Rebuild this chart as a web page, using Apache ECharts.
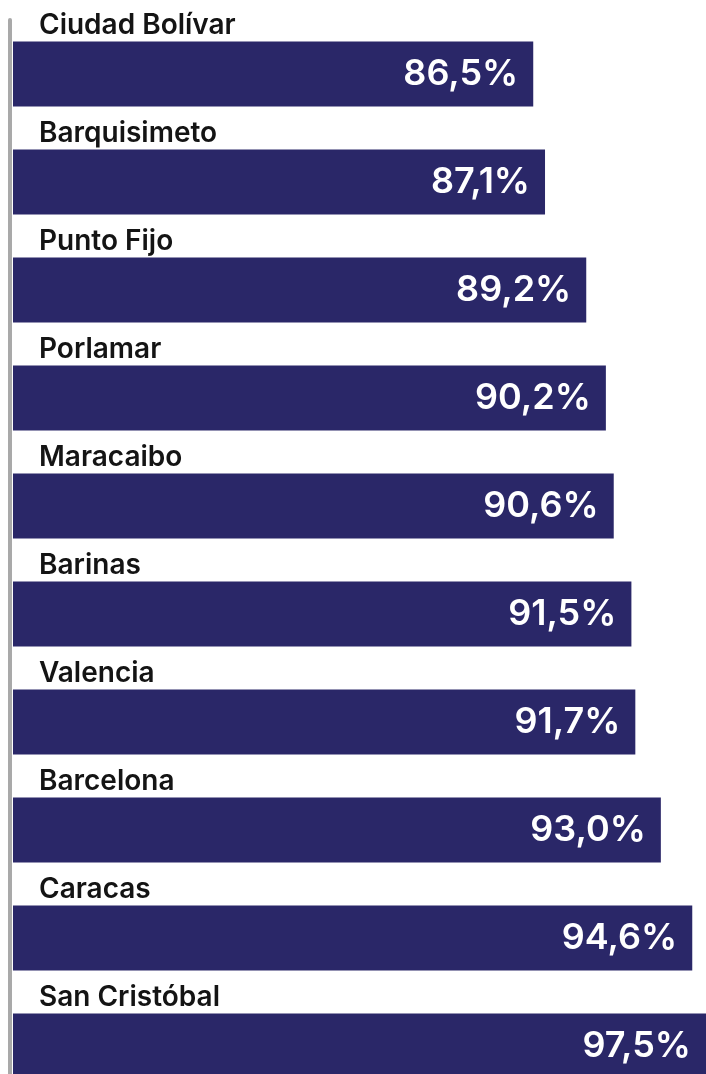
<!DOCTYPE html>
<html>
<head>
<meta charset="utf-8">
<script src="https://cdn.jsdelivr.net/npm/echarts@6/dist/echarts.min.js"></script>
<style>
  html, body { margin: 0; padding: 0; background: #fff; }
  #chart { width: 706px; height: 1074px; }
</style>
</head>
<body>
<div id="chart"></div>
<script>
// ciudades, de arriba hacia abajo
const cities = ['Ciudad Bolívar', 'Barquisimeto', 'Punto Fijo', 'Porlamar', 'Maracaibo',
  'Barinas', 'Valencia', 'Barcelona', 'Caracas', 'San Cristóbal'];
const values = [86.5, 87.1, 89.2, 90.2, 90.6, 91.5, 91.7, 93.0, 94.6, 97.5];

const navy = '#2a2768';

const chart = echarts.init(document.getElementById('chart'));

const option = {
  backgroundColor: '#ffffff',
  animation: false,
  grid: { left: 13, top: 20, width: 693, height: 1080, outerBoundsMode: 'none' },
  xAxis: {
    type: 'value',
    min: 60,
    max: 95.3,
    show: false
  },
  yAxis: {
    type: 'category',
    data: cities,
    inverse: true,
    offset: 3,
    axisLine: { show: true, lineStyle: { color: '#a9a9a9', width: 4 } },
    axisTick: { show: false },
    axisLabel: { show: false }
  },
  series: [
    {
      // barra con el porcentaje
      type: 'bar',
      data: values,
      barWidth: 65,
      barGap: '-100%',
      itemStyle: { color: navy },
      label: {
        show: true,
        position: 'insideRight',
        distance: 15,
        color: '#ffffff',
        fontFamily: 'Inter',
        fontWeight: 600,
        fontSize: 36,
        formatter: p => p.value.toFixed(1).replace('.', ',') + '%'
      }
    },
    {
      // nombre de la ciudad encima de la barra
      type: 'bar',
      data: values,
      barWidth: 65,
      barGap: '-100%',
      silent: true,
      itemStyle: { color: 'rgba(0,0,0,0)' },
      label: {
        show: true,
        position: [26, -1],
        verticalAlign: 'bottom',
        lineHeight: 29,
        color: '#141414',
        fontFamily: 'Inter',
        fontWeight: 600,
        fontSize: 28,
        formatter: p => p.name
      }
    }
  ]
};

chart.setOption(option);
</script>
</body>
</html>
